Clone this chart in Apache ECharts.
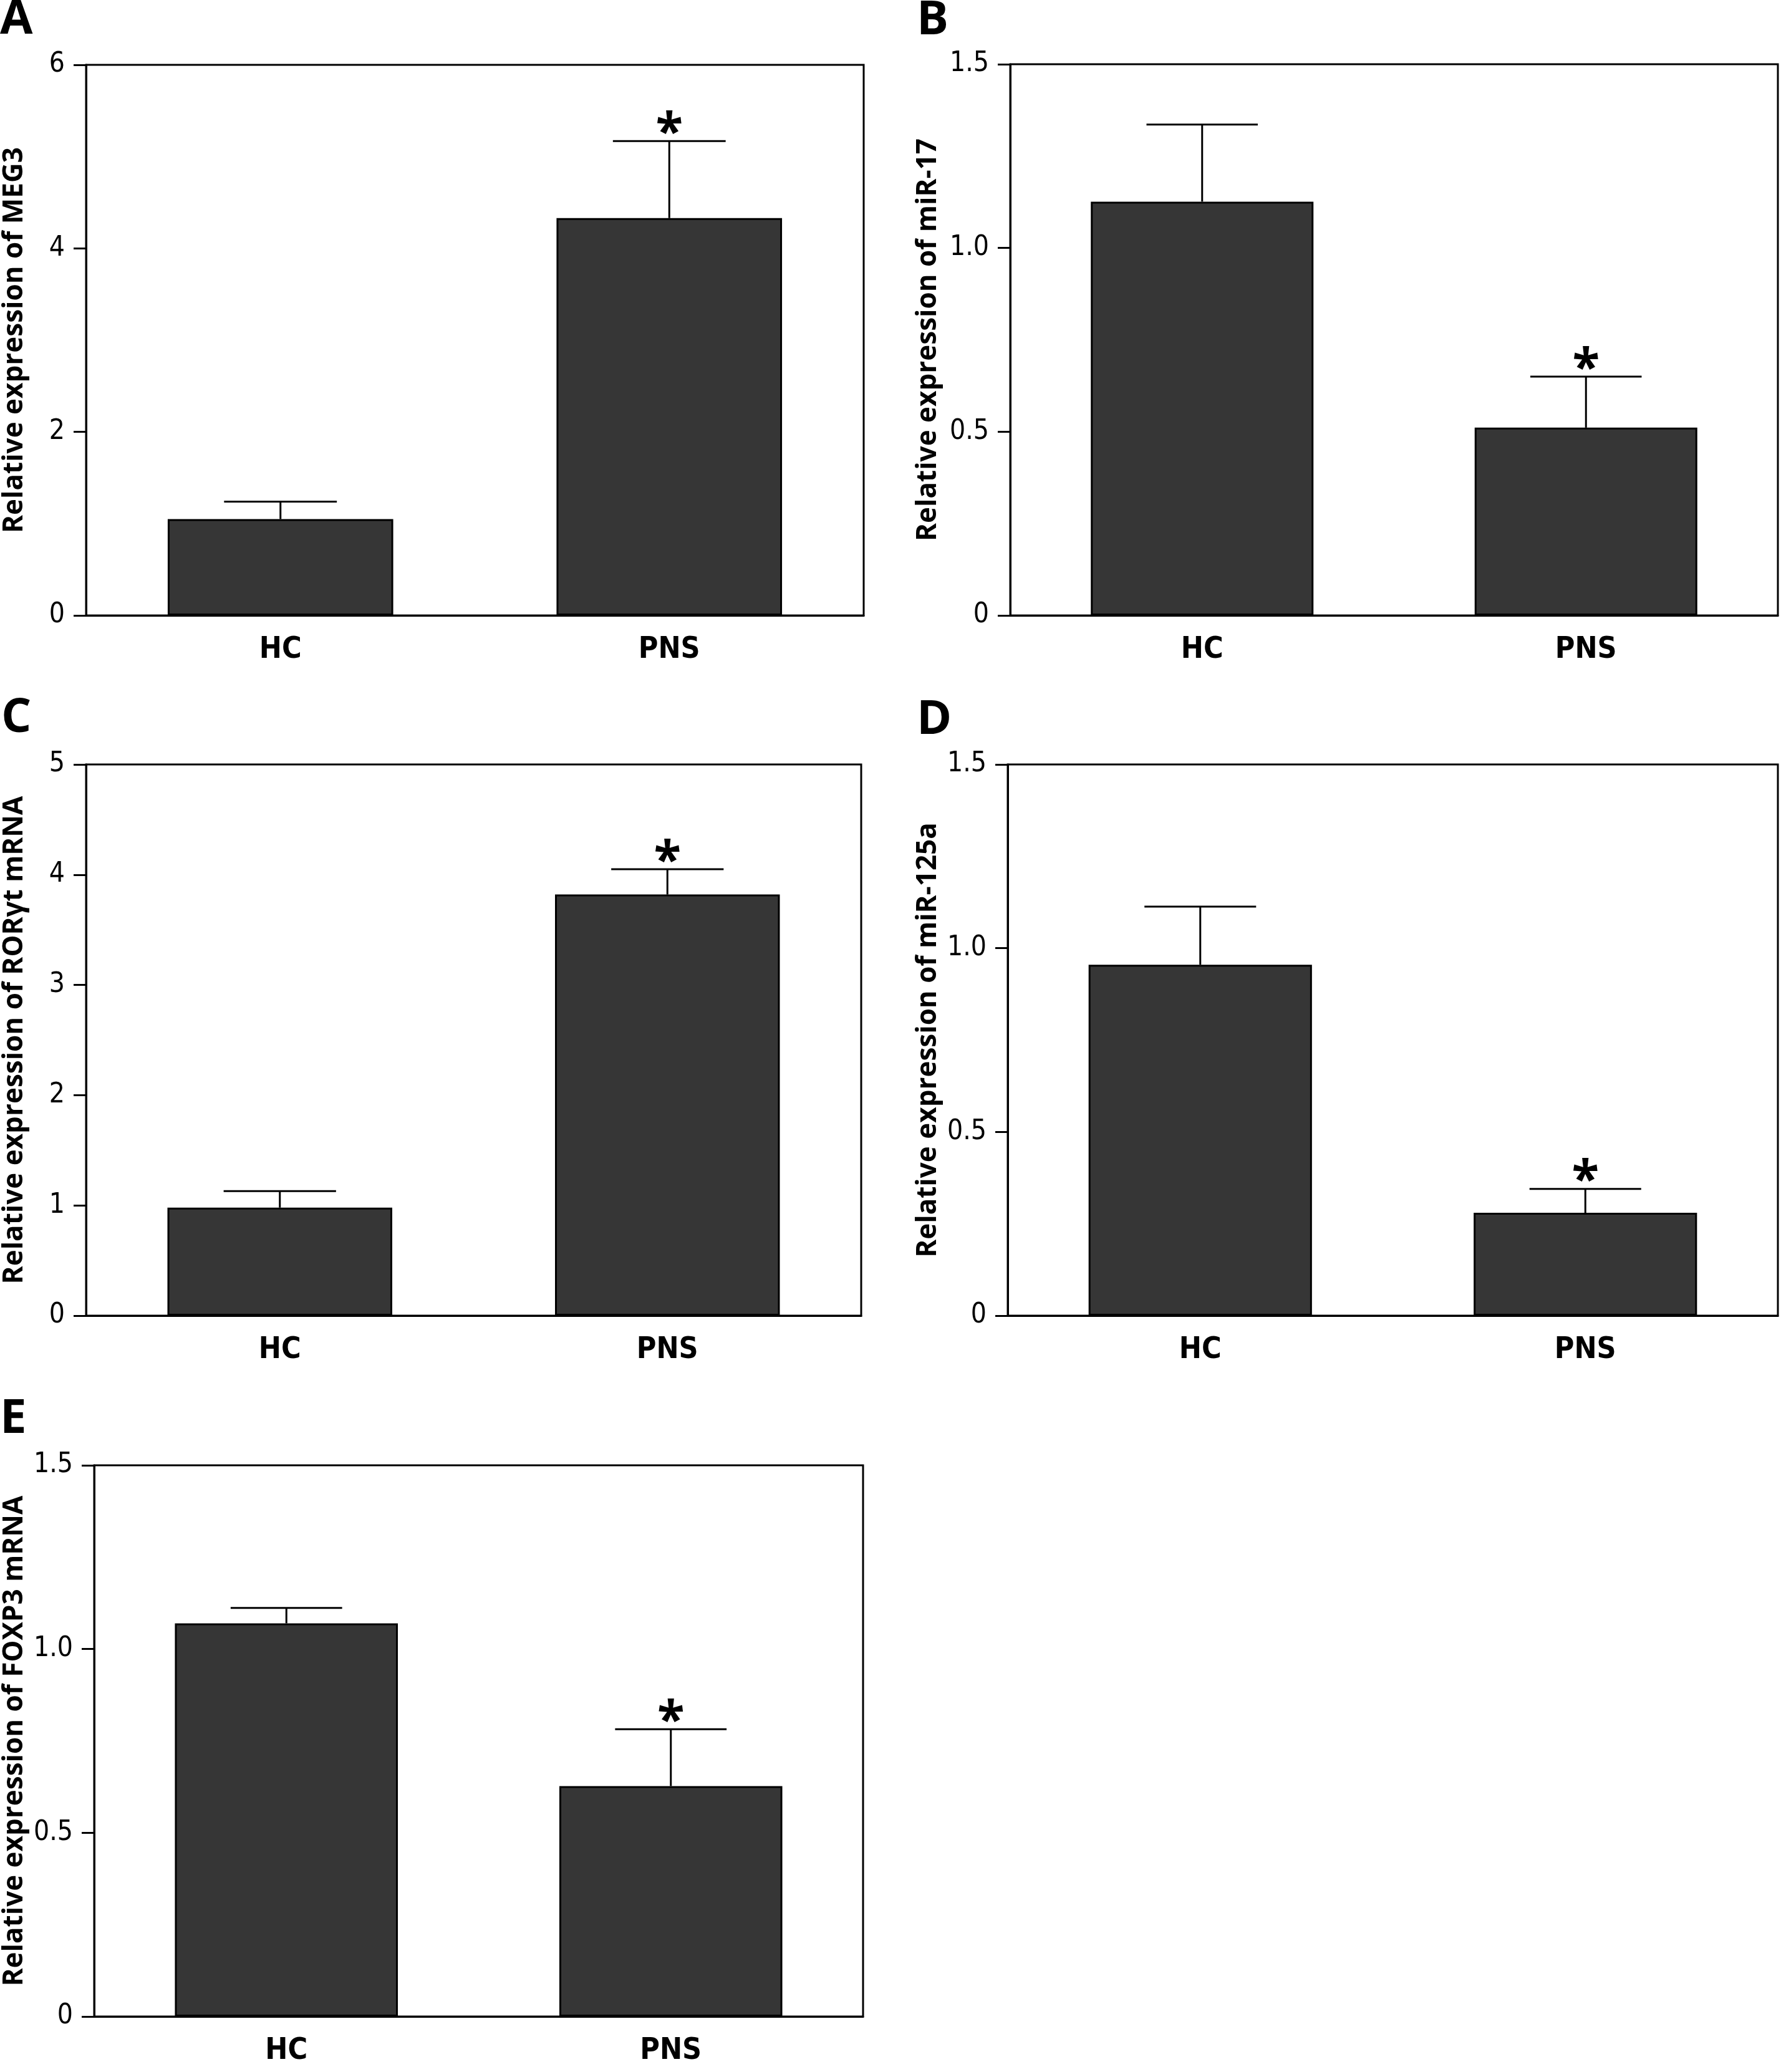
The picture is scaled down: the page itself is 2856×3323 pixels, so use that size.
<!DOCTYPE html>
<html>
<head>
<meta charset="utf-8">
<script src="https://cdn.jsdelivr.net/npm/echarts@6/dist/echarts.min.js"></script>
<style>
  html, body { margin: 0; padding: 0; background: #fff; }
  #chart { width: 2856px; height: 3323px; }
</style>
</head>
<body>
<div id="chart"></div>
<script>
// groups on the x axis
var groups = ['HC', 'PNS'];
// which group carries the significance star
var significant = [0, 1];

// A: MEG3
var meg3Mean  = [1.05, 4.33];
var meg3Upper = [1.24, 5.17];
var meg3Ticks = [0, 2, 4, 6];
// B: miR-17
var mir17Mean  = [1.126, 0.511];
var mir17Upper = [1.336, 0.65];
var mir17Ticks = [0, 0.5, 1.0, 1.5];
// C: RORgt mRNA
var rorMean  = [0.98, 3.82];
var rorUpper = [1.13, 4.05];
var rorTicks = [0, 1, 2, 3, 4, 5];
// D: miR-125a
var mir125Mean  = [0.955, 0.28];
var mir125Upper = [1.113, 0.345];
var mir125Ticks = [0, 0.5, 1.0, 1.5];
// E: FOXP3 mRNA
var foxMean  = [1.07, 0.627];
var foxUpper = [1.112, 0.782];
var foxTicks = [0, 0.5, 1.0, 1.5];

/*
* panel layout (pixels)
*/
var panels = [
	{letter:'A', title:'Relative expression of MEG3',        mean:meg3Mean,   upper:meg3Upper,   ticks:meg3Ticks,   box:[135, 104, 1250, 883],  gap:93,  lpos:[0, 32]},
	{letter:'B', title:'Relative expression of miR-17',      mean:mir17Mean,  upper:mir17Upper,  ticks:mir17Ticks,  box:[1620, 103, 1231, 884], gap:110, lpos:[1470, 33]},
	{letter:'C', title:'Relative expression of RORγt mRNA',  mean:rorMean,    upper:rorUpper,    ticks:rorTicks,    box:[138, 1226, 1243, 884], gap:93,  lpos:[2, 1152]},
	{letter:'D', title:'Relative expression of miR-125a',    mean:mir125Mean, upper:mir125Upper, ticks:mir125Ticks, box:[1616, 1226, 1235, 884],gap:106, lpos:[1470, 1155]},
	{letter:'E', title:'Relative expression of FOXP3 mRNA',  mean:foxMean,    upper:foxUpper,    ticks:foxTicks,    box:[147, 2350, 1237, 884], gap:106, lpos:[0, 2276]}
];

var tickFont = '"Liberation Sans Narrow", "DejaVu Sans Condensed", "Roboto", sans-serif';
var boldFont = '"Open Sans", "Noto Sans", sans-serif';

function renderErr(params, api){
	var x = api.value(0), m = api.value(1), u = api.value(2), sig = api.value(3);
	var p0 = api.coord([x, m]);
	var p1 = api.coord([x, u]);
	var half = api.size([1, 0])[0] * 0.145;
	var kids = [
		{type:'line', shape:{x1:p0[0], y1:p0[1], x2:p1[0], y2:p1[1]}, style:{stroke:'#000', lineWidth:3}},
		{type:'line', shape:{x1:p1[0]-half, y1:p1[1], x2:p1[0]+half, y2:p1[1]}, style:{stroke:'#000', lineWidth:3}}
	];
	if(sig){
		kids.push({type:'text', style:{text:'*', x:p1[0], y:p1[1]-11, textAlign:'center', textVerticalAlign:'middle',
			font:'bold 80px ' + boldFont, fill:'#000'}});
	}
	return {type:'group', children:kids};
}

var grid=[], xAxis=[], yAxis=[], series=[], graphic=[];
panels.forEach(function(p, i){
	var t = p.ticks;
	var step = t[1]-t[0];
	grid.push({left:p.box[0], top:p.box[1], width:p.box[2], height:p.box[3],
		show:true, borderColor:'#000', borderWidth:3, backgroundColor:'transparent'});
	xAxis.push({gridIndex:i, type:'category', data:groups,
		axisLine:{lineStyle:{color:'#000', width:3}},
		axisTick:{alignWithLabel:true, length:19, lineStyle:{color:'#000', width:3}},
		axisLabel:{margin:32, color:'#000', fontSize:48, fontWeight:'bold', fontFamily:tickFont}
	});
	yAxis.push({gridIndex:i, type:'value', min:t[0], max:t[t.length-1], interval:step,
		name:p.title, nameLocation:'middle', nameGap:p.gap,
		nameTextStyle:{color:'#000', fontSize:44, fontWeight:'bold', fontFamily:boldFont},
		axisLine:{show:true, lineStyle:{color:'#000', width:3}},
		axisTick:{show:true, length:20, lineStyle:{color:'#000', width:3}},
		splitLine:{show:false},
		axisLabel:{margin:34, color:'#000', fontSize:44, fontFamily:tickFont,
			formatter:function(v){ return v===0 ? '0' : (step<1 ? v.toFixed(1) : String(v)); }}
	});
	series.push({type:'bar', xAxisIndex:i, yAxisIndex:i, data:p.mean, barWidth:'58%',
		itemStyle:{color:'#363636', borderColor:'#000', borderWidth:3}, z:2});
	var errData = groups.map(function(g, k){ return [k, p.mean[k], p.upper[k], significant[k]]; });
	series.push({type:'custom', xAxisIndex:i, yAxisIndex:i, data:errData, renderItem:renderErr,
		encode:{x:0, y:[1, 2]}, z:3, clip:false});
	graphic.push({type:'text', left:null, x:p.lpos[0], y:p.lpos[1],
		style:{text:p.letter, font:'bold 76px ' + boldFont, fill:'#000', textAlign:'left', textVerticalAlign:'middle'}});
});

var myChart = echarts.init(document.getElementById('chart'), null, {renderer:'canvas'});
myChart.setOption({
	animation:false,
	backgroundColor:'#fff',
	grid:grid,
	xAxis:xAxis,
	yAxis:yAxis,
	series:series,
	graphic:graphic
});
</script>
</body>
</html>
